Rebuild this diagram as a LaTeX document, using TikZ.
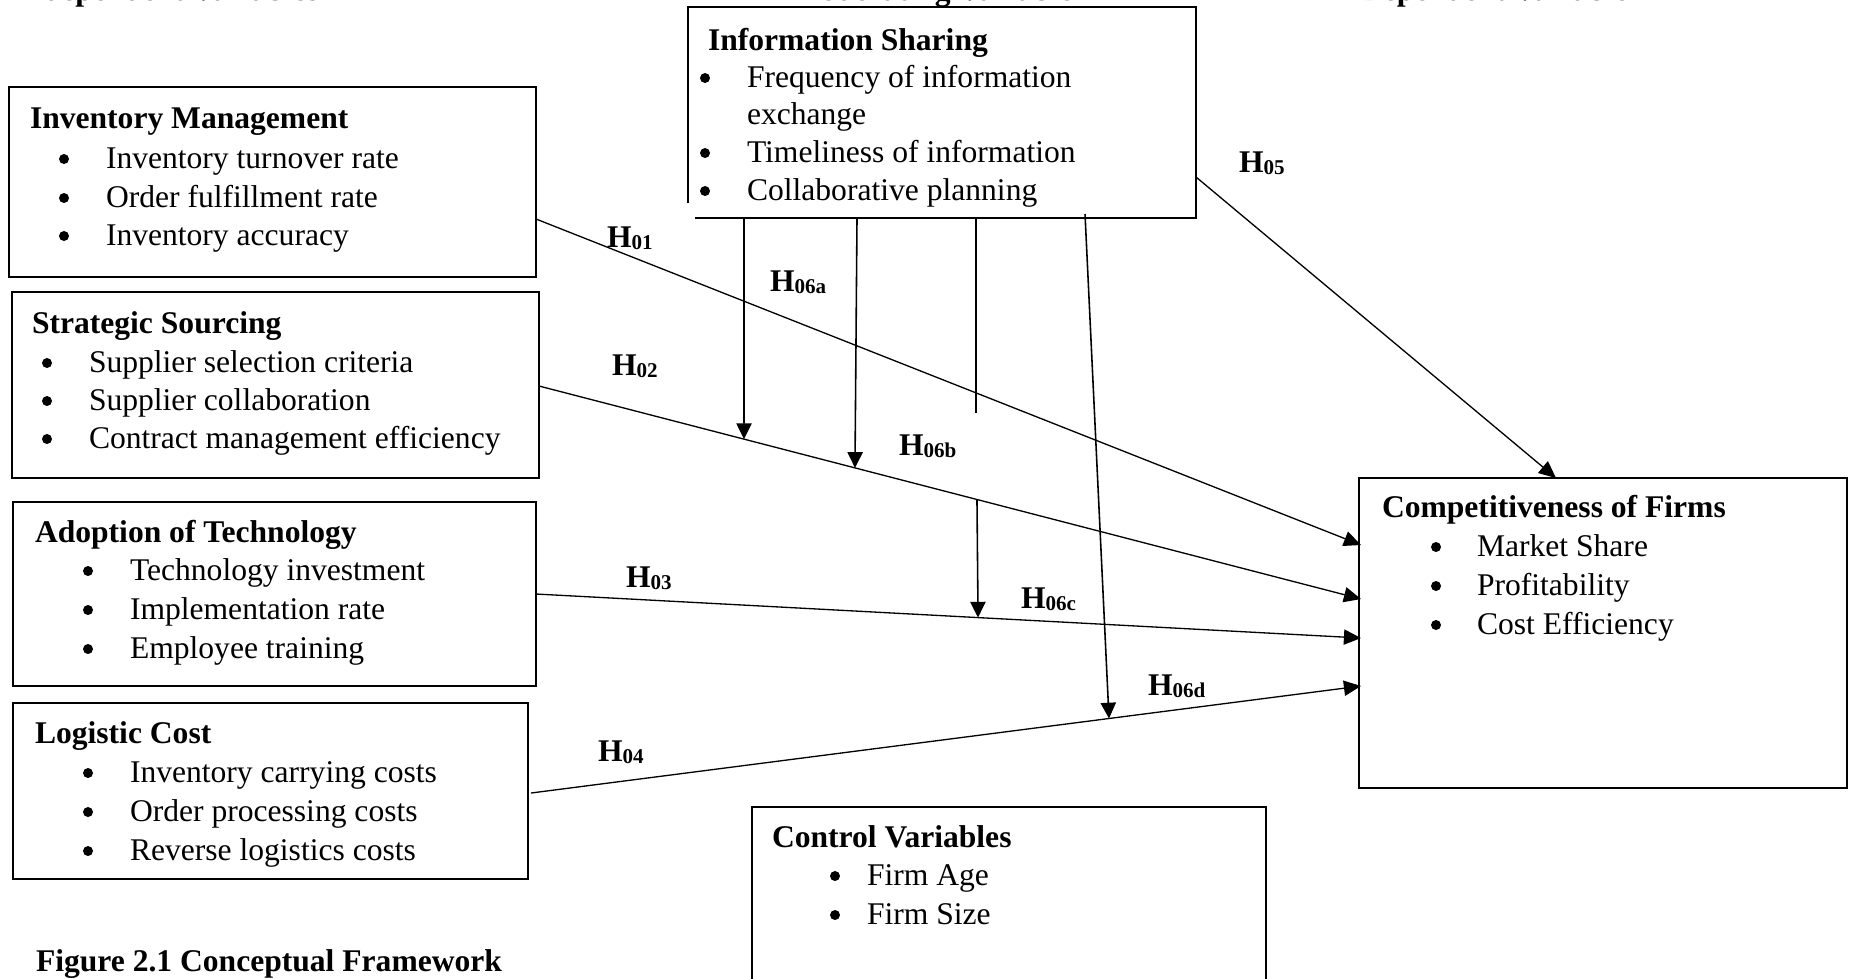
\documentclass[tikz,border=0pt]{standalone}
\usepackage{fontspec}
\setmainfont{Liberation Serif}
\usetikzlibrary{calc,arrows.meta}
\newcommand\hlab[1]{\textbf{H}\raisebox{-1pt}{\fontsize{8}{8}\selectfont\bfseries #1}}
\begin{document}
\begin{tikzpicture}[x=0.38pt,y=-0.38pt,
  box/.style={draw, line width=0.8pt, inner sep=0pt, outer sep=0pt, anchor=north west},
  txt/.style={anchor=base west, inner sep=0pt, outer sep=0pt, font=\fontsize{12}{14}\selectfont},
  ttl/.style={anchor=base west, inner sep=0pt, outer sep=0pt, font=\fontsize{12}{14}\selectfont\bfseries},
  bul/.style={circle, fill=black, draw=none, inner sep=0pt, outer sep=0pt, minimum size=3.8pt, yshift=9*0.38pt},
  hyp/.style={anchor=base west, inner sep=0pt, outer sep=0pt, font=\fontsize{12}{14}\selectfont},
  conn/.style={line width=0.5pt, -{Triangle[length=6.5pt,width=5.8pt]}},
  plainline/.style={line width=0.6pt},
  modl/.style={line width=0.6pt, -{Triangle[length=6pt,width=5.8pt]}},
]
\useasboundingbox (0,0) rectangle (1849,978);

% headers (cut off at the top)
\node[ttl] (hind) at (14,0) {Independent Variables};
\node[ttl, anchor=base] (hmod) at (932,0) {Moderating Variable};
\node[ttl] (hdep) at (1360,0) {Dependent Variable};

% boxes
\node[box, minimum width=527*0.38pt, minimum height=190*0.38pt] (inv) at (9,87) {};
\node[box, minimum width=527*0.38pt, minimum height=186*0.38pt] (strat) at (12,292) {};
\node[box, minimum width=523*0.38pt, minimum height=184*0.38pt] (adopt) at (13,502) {};
\node[box, minimum width=515*0.38pt, minimum height=176*0.38pt] (logi) at (13,703) {};
\node[box, minimum width=488*0.38pt, minimum height=310*0.38pt] (comp) at (1359,478) {};
\node[box, minimum width=514*0.38pt, minimum height=200*0.38pt] (ctrl) at (752,807) {};
\node[inner sep=0pt, outer sep=0pt, anchor=north west, minimum width=508*0.38pt, minimum height=211*0.38pt] (info) at (688,7) {};
\draw[line width=0.8pt] ($(info.south west)+(0,-15)$) -- (info.north west) -- (info.north east) -- (info.south east) -- ($(info.south west)+(7,0)$);

% Inventory Management
\node[ttl] (invt) at (30,128) {Inventory Management};
\node[bul] (invb1) at (64,168) {}; \node[txt] (invi1) at (106,168) {Inventory turnover rate};
\node[bul] (invb2) at (64,207) {}; \node[txt] (invi2) at (106,207) {Order fulfillment rate};
\node[bul] (invb3) at (64,245) {}; \node[txt] (invi3) at (106,245) {Inventory accuracy};

% Strategic Sourcing
\node[ttl] (stt) at (32,333) {Strategic Sourcing};
\node[bul] (stb1) at (47,372) {}; \node[txt] (sti1) at (89,372) {Supplier selection criteria};
\node[bul] (stb2) at (47,410) {}; \node[txt] (sti2) at (89,410) {Supplier collaboration};
\node[bul] (stb3) at (47,448) {}; \node[txt] (sti3) at (89,448) {Contract management efficiency};

% Adoption of Technology
\node[ttl] (adt) at (35,542) {Adoption of Technology};
\node[bul] (adb1) at (88,580) {}; \node[txt] (adi1) at (130,580) {Technology investment};
\node[bul] (adb2) at (88,619) {}; \node[txt] (adi2) at (130,619) {Implementation rate};
\node[bul] (adb3) at (88,658) {}; \node[txt] (adi3) at (130,658) {Employee training};

% Logistic Cost
\node[ttl] (lct) at (35,743) {Logistic Cost};
\node[bul] (lcb1) at (88,782) {}; \node[txt] (lci1) at (130,782) {Inventory carrying costs};
\node[bul] (lcb2) at (88,821) {}; \node[txt] (lci2) at (130,821) {Order processing costs};
\node[bul] (lcb3) at (88,860) {}; \node[txt] (lci3) at (130,860) {Reverse logistics costs};

% Information Sharing
\node[ttl] (ist) at (708,50) {Information Sharing};
\node[bul] (isb1) at (705,87) {}; \node[txt] (isi1) at (747,87) {Frequency of information};
\node[txt] (isi1b) at (747,124) {exchange};
\node[bul] (isb2) at (705,162) {}; \node[txt] (isi2) at (747,162) {Timeliness of information};
\node[bul] (isb3) at (705,200) {}; \node[txt] (isi3) at (747,200) {Collaborative planning};

% Competitiveness of Firms
\node[ttl] (cpt) at (1382,517) {Competitiveness of Firms};
\node[bul] (cpb1) at (1436,556) {}; \node[txt] (cpi1) at (1477,556) {Market Share};
\node[bul] (cpb2) at (1436,595) {}; \node[txt] (cpi2) at (1477,595) {Profitability};
\node[bul] (cpb3) at (1436,634) {}; \node[txt] (cpi3) at (1477,634) {Cost Efficiency};

% Control Variables
\node[ttl] (cvt) at (772,847) {Control Variables};
\node[bul] (cvb1) at (835,885) {}; \node[txt] (cvi1) at (867,885) {Firm Age};
\node[bul] (cvb2) at (835,924) {}; \node[txt] (cvi2) at (867,924) {Firm Size};

% caption
\node[ttl] (cap) at (36,971) {Figure 2.1 Conceptual Framework};

% connector end points
\coordinate (h1s) at ($(inv.north east)+(0,132)$);
\coordinate (h1e) at ($(comp.north west)+(2,67)$);
\coordinate (h2s) at ($(strat.north east)+(0,94)$);
\coordinate (h2e) at ($(comp.north west)+(2,121)$);
\coordinate (h3s) at ($(adopt.north east)+(0,92)$);
\coordinate (h3e) at ($(comp.north west)+(2,160)$);
\coordinate (h4s) at ($(logi.north east)+(3,90)$);
\coordinate (h4e) at ($(comp.north west)+(2,208)$);

\draw[conn] (h1s) -- (h1e);
\draw[conn] (h2s) -- (h2e);
\draw[conn] (h3s) -- (h3e);
\draw[conn] (h4s) -- (h4e);
\draw[conn] ($(info.south east)+(0,-41)$) -- ($(comp.north west)+(197,0)$);

% moderating connectors
\draw[modl] ($(info.south west)+(56,0)$) -- ($(h2s)!0.2494!(h2e)$);
\draw[modl] ($(info.south west)+(169,0)$) -- ($(h2s)!0.3844!(h2e)$);
\coordinate (m3end) at (976,413);
\draw[plainline] ($(info.south west)+(288,0)$) -- (m3end);
\draw[modl] ($(h2s)!0.5328!(h2e)$) -- ($(h3s)!0.5358!(h3e)$);
\draw[modl] ($(info.south west)+(397,-4)$) -- ($(h4s)!0.6964!(h4e)$);

% hypothesis labels
\node[hyp] (l01) at (607,247) {\hlab{01}};
\node[hyp] (l06a) at (770,291) {\hlab{06a}};
\node[hyp] (l02) at (612,375) {\hlab{02}};
\node[hyp] (l06b) at (899,455) {\hlab{06b}};
\node[hyp] (l03) at (626,587) {\hlab{03}};
\node[hyp] (l06c) at (1021,608) {\hlab{06c}};
\node[hyp] (l06d) at (1148,695) {\hlab{06d}};
\node[hyp] (l04) at (598,761) {\hlab{04}};
\node[hyp] (l05) at (1239,172) {\hlab{05}};
\end{tikzpicture}
\end{document}
